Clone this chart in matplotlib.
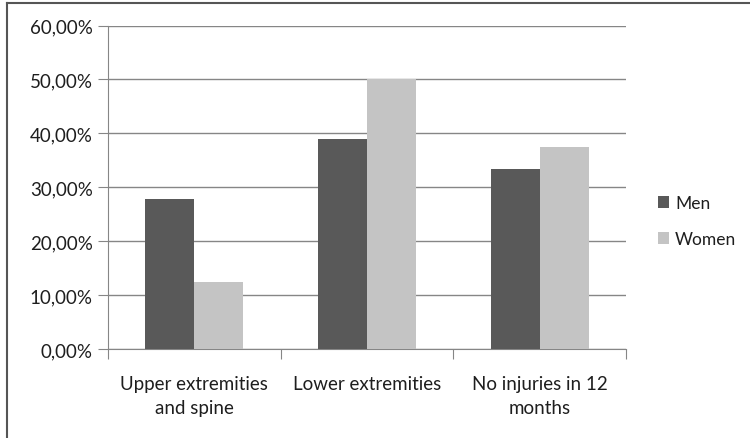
import numpy as np
from matplotlib import pyplot as plt
from matplotlib.lines import Line2D
from matplotlib.ticker import FuncFormatter

categories = ["Upper extremities\nand spine", "Lower extremities", "No injuries in 12\nmonths"]
men = [27.8, 38.9, 33.3]
women = [12.5, 50.0, 37.5]
y_ticks = [0, 10, 20, 30, 40, 50, 60]

men_color = "#595959"
women_color = "#c4c4c4"
grid_color = "#868686"
text_color = "#1e1e1e"
fs = 13.5

plt.rcParams['font.family'] = ['Lato', 'DejaVu Sans']

fig = plt.figure(figsize=(7.5, 4.39), dpi=100)
ax = fig.add_axes([0.144, 0.2027, 0.6907, 0.7369])

x = np.arange(len(categories))
w = 0.283
ax.bar(x - w / 2, men, w, color=men_color, label="Men", zorder=3)
ax.bar(x + w / 2, women, w, color=women_color, label="Women", zorder=3)

ax.set_xlim(-0.5, len(categories) - 0.5)
ax.set_ylim(0, 60)
ax.set_yticks(y_ticks)
ax.yaxis.set_major_formatter(FuncFormatter(lambda v, p: ("%.2f%%" % v).replace(".", ",")))
ax.yaxis.grid(True, color=grid_color, linewidth=1)
ax.set_axisbelow(True)

# category labels centred, ticks at boundaries
ax.set_xticks(np.arange(-0.5, len(categories)))
ax.set_xticklabels([])
ax.set_xticks(x, minor=True)
ax.set_xticklabels(categories, minor=True, fontsize=fs, color=text_color, linespacing=1.45)
ax.tick_params(axis='x', which='minor', length=0, pad=19)
ax.tick_params(axis='x', which='major', length=7, color=grid_color, direction='out')
ax.tick_params(axis='y', length=7, color=grid_color, labelsize=fs, labelcolor=text_color, pad=4)

for s in ['top', 'right']:
    ax.spines[s].set_visible(False)
for s in ['left', 'bottom']:
    ax.spines[s].set_color(grid_color)

leg = fig.legend(loc='center left', bbox_to_anchor=(0.877, 0.494), frameon=False,
                 fontsize=12.5, handlelength=0.65, handleheight=0.65, handletextpad=0.35,
                 labelspacing=1.15, borderpad=0, borderaxespad=0)
for t in leg.get_texts():
    t.set_color(text_color)

# outer frame (only left and top visible)
fig.add_artist(Line2D([0.0093, 0.0093], [0, 0.991], color="#555555", linewidth=1.5))
fig.add_artist(Line2D([0.0093, 1.0], [0.991, 0.991], color="#555555", linewidth=1.5))

plt.savefig("out.png", dpi=100)
